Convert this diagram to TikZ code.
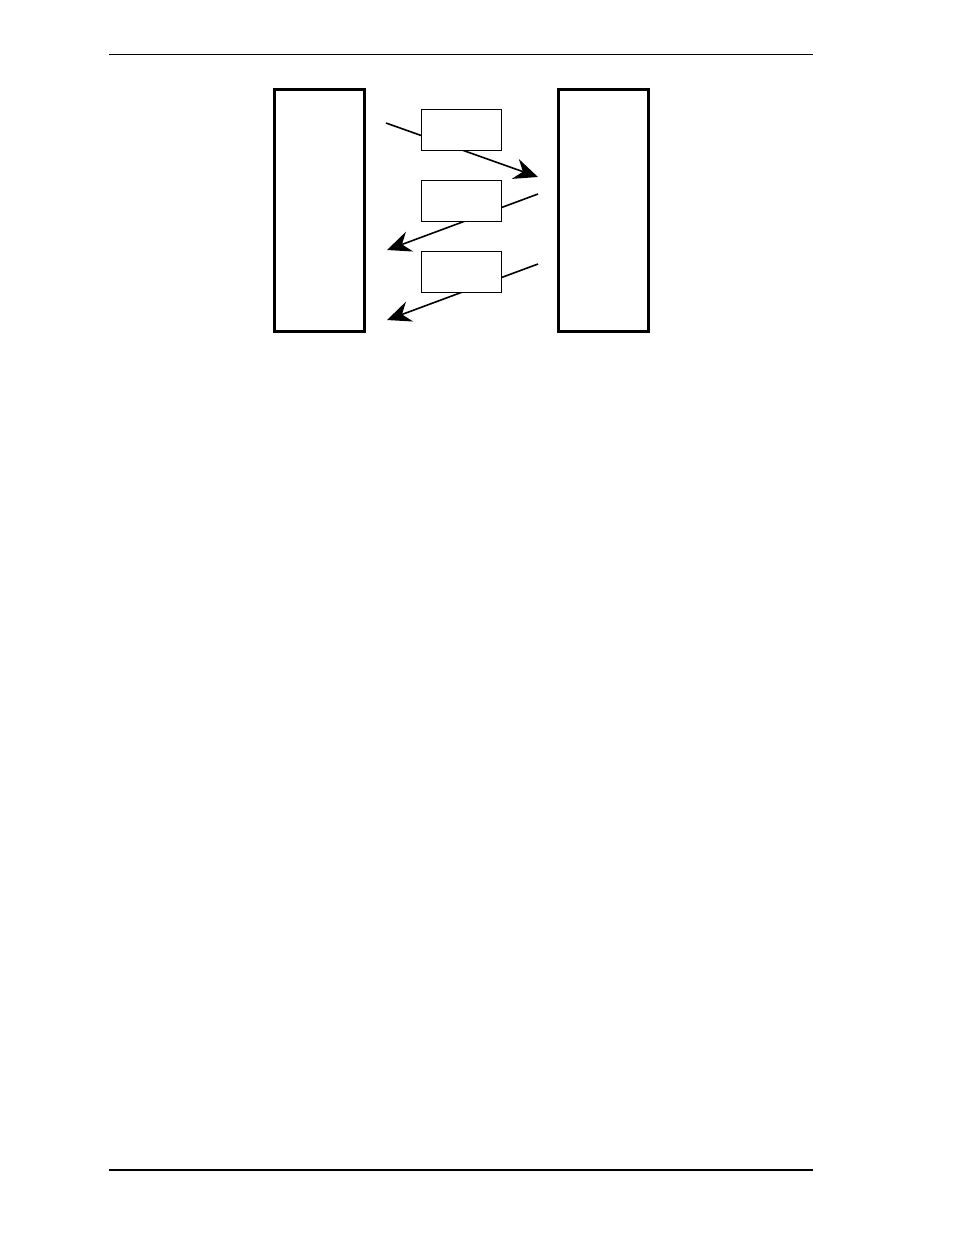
\documentclass[tikz,border=0pt]{standalone}
\usepackage{tikz}
\usetikzlibrary{arrows.meta,backgrounds}

\begin{document}
\begin{tikzpicture}[x=1pt,y=-1pt,
  unit/.style={draw,line width=3pt,minimum width=90pt,minimum height=242pt,anchor=north west,inner sep=0pt,outer sep=0pt},
  frame/.style={draw,fill=white,line width=0.8pt,minimum width=80pt,minimum height=41pt,anchor=north west,inner sep=0pt,outer sep=0pt},
  flow/.style={line width=1.6pt,-{Stealth[length=24pt,width=21pt,inset=8pt]}}]
\useasboundingbox (0,0) rectangle (954,1235);
\draw[line width=1pt] (109,54) -- (813,54);
\draw[line width=2.2pt] (109,1170) -- (813,1170);
% ends of the arrows
\coordinate (outA) at (386,123);
\coordinate (inA) at (538,177);
\coordinate (outB) at (538,194);
\coordinate (inB) at (387,250);
\coordinate (outC) at (538,264);
\coordinate (inC) at (387,320);
\draw[flow] (outA) -- (inA);
\draw[flow] (outB) -- (inB);
\draw[flow] (outC) -- (inC);
% the two units and the three frames
\node[unit] (left) at (274.5,89.5) {};
\node[unit] (right) at (558.5,89.5) {};
\node[frame] (frameA) at (421,109) {};
\node[frame] (frameB) at (421,180) {};
\node[frame] (frameC) at (421,251) {};
\end{tikzpicture}
\end{document}
